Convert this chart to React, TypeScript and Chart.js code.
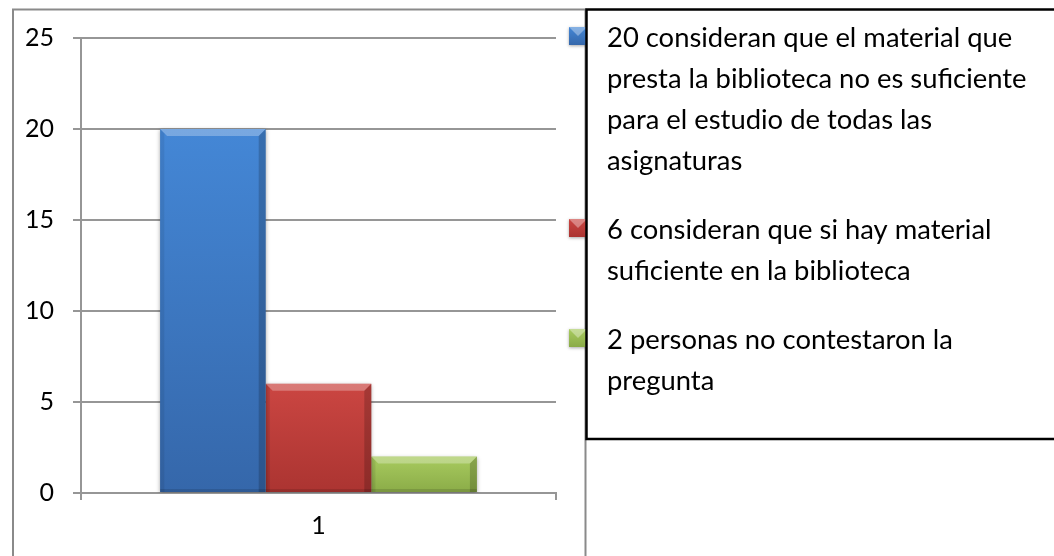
import React, { useEffect, useRef } from "react";
import { Chart, registerables } from "chart.js";

Chart.register(...registerables);

// ---- data ----
const categories = ["1"];
const seriesLabels: string[][] = [
  [
    "20 consideran que el material que",
    "presta la biblioteca no es suficiente",
    "para el estudio de todas las",
    "asignaturas",
  ],
  ["6 consideran que si hay material", "suficiente en la biblioteca"],
  ["2 personas no contestaron la", "pregunta"],
];
const seriesValues: number[][] = [[20], [6], [2]];
const yTicks = [0, 5, 10, 15, 20, 25];

// ---- styles ----
const palette = [
  { top: "#4487d6", bottom: "#3567aa" },
  { top: "#cb4642", bottom: "#ab3431" },
  { top: "#a8cb5f", bottom: "#8aab47" },
];
const GRID = "#969696";
const FONT = "Lato, 'Open Sans', sans-serif";

function bevelRect(
  ctx: CanvasRenderingContext2D,
  left: number,
  top: number,
  right: number,
  bottom: number,
  b: number
) {
  ctx.save();
  ctx.fillStyle = "rgba(255,255,255,0.28)";
  ctx.beginPath();
  ctx.moveTo(left, top);
  ctx.lineTo(right, top);
  ctx.lineTo(right - b, top + b);
  ctx.lineTo(left + b, top + b);
  ctx.closePath();
  ctx.fill();
  ctx.fillStyle = "rgba(0,0,0,0.18)";
  ctx.beginPath();
  ctx.moveTo(right, top);
  ctx.lineTo(right - b, top + b);
  ctx.lineTo(right - b, bottom);
  ctx.lineTo(right, bottom);
  ctx.closePath();
  ctx.fill();
  ctx.fillStyle = "rgba(0,0,0,0.07)";
  ctx.beginPath();
  ctx.moveTo(left, top);
  ctx.lineTo(left + b * 0.6, top + b * 0.6);
  ctx.lineTo(left + b * 0.6, bottom);
  ctx.lineTo(left, bottom);
  ctx.closePath();
  ctx.fill();
  ctx.fillStyle = "rgba(0,0,0,0.12)";
  ctx.fillRect(left, bottom - 3, right - left, 3);
  ctx.restore();
}

const decorPlugin = {
  id: "decor",
  beforeDraw(chart: any) {
    const ctx: CanvasRenderingContext2D = chart.ctx;
    ctx.save();
    ctx.fillStyle = "#ffffff";
    ctx.fillRect(0, 0, chart.width, chart.height);
    ctx.strokeStyle = "#8a8a8a";
    ctx.lineWidth = 2;
    ctx.beginPath();
    ctx.moveTo(13, chart.height + 5);
    ctx.lineTo(13, 9.5);
    ctx.lineTo(585.5, 9.5);
    ctx.lineTo(585.5, chart.height + 5);
    ctx.stroke();
    ctx.restore();
  },
  beforeDatasetsDraw(chart: any) {
    const ctx: CanvasRenderingContext2D = chart.ctx;
    ctx.save();
    ctx.shadowColor = "rgba(0,0,0,0.35)";
    ctx.shadowBlur = 4;
    ctx.shadowOffsetX = 0;
    ctx.shadowOffsetY = 1;
  },
  afterDatasetsDraw(chart: any) {
    const ctx: CanvasRenderingContext2D = chart.ctx;
    ctx.restore();
    chart.data.datasets.forEach((_ds: any, i: number) => {
      const meta = chart.getDatasetMeta(i);
      meta.data.forEach((el: any) => {
        const p = el.getProps(["x", "y", "base", "width"], true);
        const left = p.x - p.width / 2;
        const right = p.x + p.width / 2;
        bevelRect(ctx, left, Math.min(p.y, p.base), right, Math.max(p.y, p.base), 7);
      });
    });
  },
  afterDraw(chart: any) {
    const ctx: CanvasRenderingContext2D = chart.ctx;
    ctx.save();
    const lineGap = 41;
    const itemGap = 28;
    let baseline = 47;
    const baselines: number[] = [];
    seriesLabels.forEach((lines) => {
      baselines.push(baseline);
      baseline += lines.length * lineGap + itemGap;
    });
    seriesLabels.forEach((_lines, i) => {
      const top = baselines[i] - 20;
      const x = 569;
      const w = 18;
      const h = 18;
      ctx.save();
      ctx.shadowColor = "rgba(0,0,0,0.35)";
      ctx.shadowBlur = 3;
      ctx.shadowOffsetY = 1;
      const g = ctx.createLinearGradient(0, top, 0, top + h);
      g.addColorStop(0, palette[i].top);
      g.addColorStop(1, palette[i].bottom);
      ctx.fillStyle = g;
      ctx.fillRect(x, top, w, h);
      ctx.restore();
      ctx.fillStyle = "rgba(255,255,255,0.35)";
      ctx.beginPath();
      ctx.moveTo(x, top);
      ctx.lineTo(x + w, top);
      ctx.lineTo(x + w / 2, top + h * 0.5);
      ctx.closePath();
      ctx.fill();
    });
    ctx.fillStyle = "#ffffff";
    ctx.fillRect(587, 10, 480, 428);
    ctx.strokeStyle = "#000000";
    ctx.lineWidth = 2.5;
    ctx.beginPath();
    ctx.moveTo(1070, 9.5);
    ctx.lineTo(586.5, 9.5);
    ctx.lineTo(586.5, 439);
    ctx.lineTo(1070, 439);
    ctx.stroke();
    ctx.font = `100px ${FONT}`;
    const w100 = ctx.measureText(seriesLabels[0][0]).width;
    const fs = Math.round(((100 * 405) / w100) * 10) / 10;
    ctx.font = `${fs}px ${FONT}`;
    ctx.fillStyle = "#000000";
    ctx.textBaseline = "alphabetic";
    ctx.textAlign = "left";
    seriesLabels.forEach((lines, i) => {
      lines.forEach((ln, j) => {
        ctx.fillText(ln, 607, baselines[i] + j * lineGap);
      });
    });
    ctx.restore();
  },
};

export default function App() {
  const ref = useRef<HTMLCanvasElement | null>(null);

  useEffect(() => {
    if (!ref.current) return;
    const chart = new Chart(ref.current, {
      type: "bar",
      data: {
        labels: categories,
        datasets: seriesValues.map((vals, i) => ({
          label: seriesLabels[i].join(" "),
          data: vals,
          backgroundColor: (c: any) => {
            const chartObj = c.chart;
            const y = chartObj.scales && chartObj.scales.y;
            if (!chartObj.chartArea || !y || typeof c.raw !== "number") return palette[i].top;
            const top = y.getPixelForValue(c.raw);
            const bottom = y.getPixelForValue(0);
            const g = chartObj.ctx.createLinearGradient(0, top, 0, bottom);
            g.addColorStop(0, palette[i].top);
            g.addColorStop(1, palette[i].bottom);
            return g;
          },
          borderWidth: 0,
          categoryPercentage: 0.667,
          barPercentage: 1,
        })),
      },
      options: {
        responsive: false,
        animation: false,
        devicePixelRatio: 1,
        layout: { padding: { top: 38, right: 498, bottom: 0, left: 0 } },
        plugins: {
          legend: { display: false },
          tooltip: { enabled: false },
          title: { display: false },
        },
        scales: {
          x: {
            type: "category",
            offset: true,
            afterFit: (s: any) => {
              s.height = 63;
            },
            grid: {
              display: true,
              drawOnChartArea: false,
              drawTicks: true,
              tickLength: 7,
              offset: true,
              color: GRID,
              lineWidth: 2,
            },
            border: { display: true, color: GRID, width: 2 },
            ticks: {
              color: "#000000",
              padding: 11,
              font: { family: FONT, size: 25 },
              maxRotation: 0,
            },
          },
          y: {
            min: yTicks[0],
            max: yTicks[yTicks.length - 1],
            afterFit: (s: any) => {
              s.width = 81;
            },
            ticks: {
              stepSize: yTicks[1] - yTicks[0],
              color: "#000000",
              padding: 19,
              font: { family: FONT, size: 25 },
            },
            grid: {
              color: GRID,
              lineWidth: 2,
              tickLength: 8,
              drawTicks: true,
            },
            border: { display: true, color: GRID, width: 2 },
          },
        },
      },
      plugins: [decorPlugin],
    });
    return () => chart.destroy();
  }, []);

  return (
    <div
      style={{
        position: "fixed",
        left: 0,
        top: 0,
        width: 1054,
        height: 556,
        background: "#ffffff",
        overflow: "hidden",
      }}
    >
      <canvas ref={ref} width={1054} height={556} style={{ display: "block", width: 1054, height: 556 }} />
    </div>
  );
}
